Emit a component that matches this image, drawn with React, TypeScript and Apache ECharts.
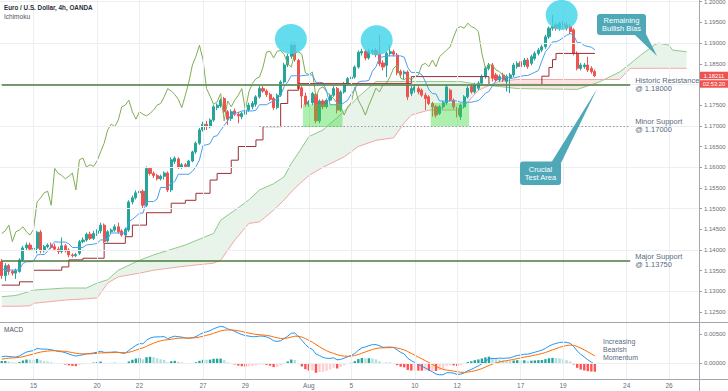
import React, { useEffect, useRef } from 'react';
import * as echarts from 'echarts';

// 4h bars [open, high, low, close], first bar = Mon 13 Jul 2020 (3rd session bar)
const candlesJul13to20 = [
  [1.1372, 1.1378, 1.1330, 1.1338], [1.1338, 1.1368, 1.1325, 1.1362], [1.1362, 1.1366, 1.1340, 1.1348],
  [1.1348, 1.1352, 1.1338, 1.1344], [1.1344, 1.1355, 1.1330, 1.1350], [1.1348, 1.1380, 1.1345, 1.1376],
  [1.1376, 1.1410, 1.1372, 1.1405], [1.1405, 1.1418, 1.1400, 1.1412], [1.1412, 1.1418, 1.1398, 1.1402],
  [1.1402, 1.1420, 1.1396, 1.1404], [1.1404, 1.1446, 1.1392, 1.1443], [1.1443, 1.1448, 1.1392, 1.1398],
  [1.1398, 1.1412, 1.1394, 1.1408], [1.1408, 1.1416, 1.1404, 1.1412], [1.1412, 1.1418, 1.1402, 1.1406],
  [1.1408, 1.1415, 1.1398, 1.1402], [1.1402, 1.1408, 1.1390, 1.1396], [1.1396, 1.1430, 1.1392, 1.1410],
  [1.1410, 1.1414, 1.1394, 1.1398], [1.1400, 1.1404, 1.1382, 1.1388], [1.1388, 1.1392, 1.1382, 1.1386],
  [1.1386, 1.1393, 1.1383, 1.1389], [1.1392, 1.1424, 1.1388, 1.1420], [1.1420, 1.1430, 1.1416, 1.1424],
  [1.1424, 1.1442, 1.1420, 1.1438], [1.1438, 1.1444, 1.1424, 1.1428], [1.1428, 1.1446, 1.1424, 1.1440],
  [1.1440, 1.1450, 1.1434, 1.1446], [1.1446, 1.1466, 1.1440, 1.1460], [1.1460, 1.1464, 1.1416, 1.1420],
  [1.1422, 1.1448, 1.1418, 1.1444], [1.1444, 1.1452, 1.1440, 1.1448], [1.1448, 1.1462, 1.1444, 1.1456],
  [1.1456, 1.1466, 1.1440, 1.1444], [1.1446, 1.1450, 1.1432, 1.1436], [1.1436, 1.1454, 1.1432, 1.1450],
  [1.1448, 1.1520, 1.1444, 1.1516], [1.1516, 1.1532, 1.1510, 1.1526], [1.1526, 1.1544, 1.1522, 1.1538],
  [1.1538, 1.1546, 1.1532, 1.1542], [1.1542, 1.1546, 1.1500, 1.1508], [1.1508, 1.1602, 1.1504, 1.1597],
  [1.1597, 1.1600, 1.1580, 1.1585], [1.1585, 1.1590, 1.1574, 1.1580],
];
const candlesJul23toAug3 = [
  [1.1580, 1.1584, 1.1568, 1.1572], [1.1572, 1.1582, 1.1568, 1.1578], [1.1578, 1.1590, 1.1570, 1.1586],
  [1.1586, 1.1590, 1.1540, 1.1545], [1.1545, 1.1624, 1.1540, 1.1618], [1.1614, 1.1626, 1.1608, 1.1622],
  [1.1620, 1.1624, 1.1596, 1.1600], [1.1600, 1.1610, 1.1596, 1.1606], [1.1606, 1.1610, 1.1598, 1.1602],
  [1.1602, 1.1618, 1.1598, 1.1615], [1.1615, 1.1640, 1.1612, 1.1637], [1.1637, 1.1662, 1.1632, 1.1658],
  [1.1658, 1.1695, 1.1654, 1.1690], [1.1690, 1.1710, 1.1686, 1.1704], [1.1704, 1.1712, 1.1690, 1.1698],
  [1.1698, 1.1718, 1.1694, 1.1714], [1.1714, 1.1750, 1.1710, 1.1746], [1.1744, 1.1754, 1.1738, 1.1750],
  [1.1748, 1.1766, 1.1744, 1.1762], [1.1766, 1.1770, 1.1730, 1.1734], [1.1734, 1.1738, 1.1702, 1.1716],
  [1.1718, 1.1740, 1.1712, 1.1734], [1.1736, 1.1742, 1.1724, 1.1728], [1.1728, 1.1734, 1.1706, 1.1724],
  [1.1722, 1.1734, 1.1716, 1.1730], [1.1728, 1.1742, 1.1724, 1.1738], [1.1738, 1.1756, 1.1734, 1.1750],
  [1.1746, 1.1760, 1.1740, 1.1754], [1.1752, 1.1774, 1.1746, 1.1770], [1.1770, 1.1796, 1.1766, 1.1790],
  [1.1790, 1.1796, 1.1780, 1.1784], [1.1784, 1.1788, 1.1770, 1.1776], [1.1776, 1.1780, 1.1760, 1.1764],
  [1.1766, 1.1770, 1.1738, 1.1744], [1.1744, 1.1778, 1.1740, 1.1774], [1.1774, 1.1810, 1.1770, 1.1806],
  [1.1806, 1.1852, 1.1802, 1.1847], [1.1847, 1.1874, 1.1842, 1.1868], [1.1868, 1.1904, 1.1862, 1.1895],
  [1.1895, 1.1902, 1.1855, 1.1860], [1.1858, 1.1862, 1.1786, 1.1790], [1.1792, 1.1796, 1.1742, 1.1772],
  [1.1772, 1.1780, 1.1746, 1.1752], [1.1752, 1.1762, 1.1746, 1.1758],
];
const candlesAug3to12 = [
  [1.1756, 1.1782, 1.1750, 1.1778], [1.1776, 1.1780, 1.1706, 1.1712], [1.1712, 1.1764, 1.1706, 1.1760],
  [1.1760, 1.1764, 1.1740, 1.1746], [1.1746, 1.1766, 1.1742, 1.1762], [1.1762, 1.1778, 1.1758, 1.1774],
  [1.1774, 1.1796, 1.1770, 1.1790], [1.1790, 1.1794, 1.1730, 1.1738], [1.1738, 1.1786, 1.1734, 1.1782],
  [1.1782, 1.1806, 1.1778, 1.1802], [1.1802, 1.1818, 1.1798, 1.1814], [1.1814, 1.1824, 1.1808, 1.1818],
  [1.1818, 1.1846, 1.1814, 1.1842], [1.1842, 1.1882, 1.1838, 1.1878], [1.1876, 1.1886, 1.1870, 1.1880],
  [1.1880, 1.1884, 1.1858, 1.1864], [1.1864, 1.1886, 1.1860, 1.1880], [1.1878, 1.1886, 1.1872, 1.1882],
  [1.1882, 1.1888, 1.1866, 1.1872], [1.1874, 1.1920, 1.1844, 1.1850], [1.1852, 1.1858, 1.1834, 1.1842],
  [1.1846, 1.1880, 1.1818, 1.1875], [1.1875, 1.1896, 1.1868, 1.1879], [1.1879, 1.1884, 1.1868, 1.1873],
  [1.1871, 1.1876, 1.1822, 1.1828], [1.1831, 1.1836, 1.1818, 1.1824], [1.1826, 1.1834, 1.1812, 1.1830],
  [1.1830, 1.1834, 1.1762, 1.1770], [1.1778, 1.1796, 1.1772, 1.1790], [1.1786, 1.1800, 1.1780, 1.1794],
  [1.1790, 1.1796, 1.1776, 1.1782], [1.1786, 1.1790, 1.1770, 1.1774], [1.1774, 1.1780, 1.1738, 1.1766],
  [1.1770, 1.1774, 1.1750, 1.1754], [1.1754, 1.1758, 1.1722, 1.1746], [1.1746, 1.1750, 1.1720, 1.1726],
  [1.1730, 1.1750, 1.1726, 1.1746], [1.1746, 1.1760, 1.1740, 1.1756], [1.1756, 1.1800, 1.1750, 1.1794],
  [1.1786, 1.1790, 1.1758, 1.1762], [1.1762, 1.1766, 1.1740, 1.1746], [1.1742, 1.1746, 1.1720, 1.1726],
];
const candlesAug12to20 = [
  [1.1722, 1.1754, 1.1714, 1.1750], [1.1746, 1.1774, 1.1742, 1.1770], [1.1770, 1.1796, 1.1766, 1.1791],
  [1.1795, 1.1800, 1.1778, 1.1782], [1.1782, 1.1804, 1.1778, 1.1799], [1.1791, 1.1808, 1.1786, 1.1803],
  [1.1803, 1.1824, 1.1798, 1.1819], [1.1819, 1.1844, 1.1814, 1.1839], [1.1839, 1.1852, 1.1834, 1.1847],
  [1.1847, 1.1852, 1.1807, 1.1815], [1.1823, 1.1828, 1.1806, 1.1811], [1.1811, 1.1824, 1.1806, 1.1819],
  [1.1823, 1.1828, 1.1806, 1.1811], [1.1807, 1.1824, 1.1783, 1.1819], [1.1815, 1.1828, 1.1779, 1.1823],
  [1.1823, 1.1852, 1.1818, 1.1847], [1.1843, 1.1856, 1.1838, 1.1851], [1.1855, 1.1860, 1.1838, 1.1843],
  [1.1847, 1.1864, 1.1842, 1.1859], [1.1859, 1.1864, 1.1838, 1.1843], [1.1851, 1.1872, 1.1846, 1.1867],
  [1.1863, 1.1880, 1.1858, 1.1875], [1.1875, 1.1888, 1.1870, 1.1883], [1.1883, 1.1896, 1.1878, 1.1891],
  [1.1891, 1.1920, 1.1886, 1.1915], [1.1915, 1.1940, 1.1910, 1.1936], [1.1936, 1.1968, 1.1930, 1.1940],
  [1.1944, 1.1950, 1.1930, 1.1936], [1.1936, 1.1952, 1.1930, 1.1948], [1.1948, 1.1954, 1.1934, 1.1940],
  [1.1944, 1.1950, 1.1930, 1.1936], [1.1940, 1.1946, 1.1922, 1.1928], [1.1932, 1.1936, 1.1870, 1.1875],
  [1.1875, 1.1880, 1.1834, 1.1839], [1.1839, 1.1852, 1.1834, 1.1847], [1.1843, 1.1852, 1.1838, 1.1847],
  [1.1847, 1.1867, 1.1830, 1.1835], [1.1839, 1.1844, 1.1826, 1.1831], [1.1831, 1.1836, 1.1818, 1.18211],
];
const candles = [...candlesJul13to20, ...candlesJul23toAug3, ...candlesAug3to12, ...candlesAug12to20];

const N_BARS = 198; // data bars + 26 forward cloud bars + margin
const dateLabelBars = [9, 27, 39, 57, 69, 87, 99, 117, 129, 147, 159, 177, 189];
const dateLabelText = ['15', '20', '22', '27', '29', 'Aug', '5', '10', '12', '17', '19', '24', '26'];
const priceTicks = [1.125, 1.13, 1.135, 1.14, 1.145, 1.15, 1.155, 1.16, 1.165, 1.17, 1.175, 1.18, 1.185, 1.19, 1.195, 1.2];
// 1.18000 is hidden behind the last-price tags in the reference
const priceTickLabels = priceTicks.filter(v => Math.abs(v - 1.18) > 1e-9);
const macdTicks = [0, 0.005];

// Ichimoku leading spans, bar index -> price
const cloudBars = [0, 4, 8, 9, 18, 24, 27, 30, 33, 39, 43, 52, 60, 62, 66, 70, 73, 77, 80, 82, 84, 87, 91, 97, 101, 106, 111, 114, 116, 121, 130, 135, 141, 146, 163, 169, 175, 178, 181, 185, 186, 189, 190, 194];
const spanA = [1.1287, 1.1290, 1.1300, 1.1303, 1.1308, 1.1308, 1.1320, 1.1328, 1.1351, 1.1375, 1.1388, 1.1412, 1.1440, 1.1472, 1.1496, 1.1521, 1.1545, 1.1560, 1.1577, 1.1609, 1.1634, 1.1674, 1.1690, 1.1735, 1.1770, 1.1807, 1.1807, 1.1807, 1.1807, 1.1807, 1.1807, 1.1800, 1.1795, 1.1790, 1.1788, 1.1805, 1.1830, 1.1850, 1.1871, 1.1896, 1.1900, 1.1895, 1.1883, 1.1879];
const spanB = [1.1264, 1.1264, 1.1265, 1.1271, 1.1279, 1.1282, 1.1284, 1.1320, 1.1335, 1.1344, 1.1351, 1.1361, 1.1368, 1.1375, 1.1424, 1.1464, 1.1468, 1.1496, 1.1521, 1.1540, 1.1557, 1.1580, 1.1600, 1.1625, 1.1650, 1.1665, 1.1671, 1.1707, 1.1726, 1.1738, 1.1738, 1.1786, 1.1808, 1.1812, 1.1812, 1.1812, 1.1812, 1.1839, 1.1839, 1.1839, 1.1839, 1.1839, 1.1839, 1.1839];

// Kijun (base line) steps: [start bar, value]
const kijunSteps = [[0, 1.1315], [5, 1.1323], [9, 1.1351], [17, 1.1359], [19, 1.1376], [23, 1.1380], [29, 1.1416], [35, 1.1432], [37, 1.1460], [41, 1.1490], [48, 1.1513], [52, 1.1520], [55, 1.1537], [59, 1.1569], [61, 1.1585], [65, 1.1617], [67, 1.1650], [72, 1.1666], [74, 1.1698], [79, 1.1754], [81, 1.1786], [84, 1.1802], [116, 1.1819], [138, 1.1800], [153, 1.1820], [155, 1.1841], [156, 1.1860], [157, 1.1875], [168, 1.1875]];

const macdStart = 0.0011;
const signalStart = 0.0007;

const levelResistance = 1.18;
const levelMinor = 1.17;
const levelMajor = 1.1375;

// annotation anchors: [bar, price]
const peakMarks = [[81.9, 1.1910], [106.2, 1.1907], [158.6, 1.1968]];
// highlight boxes: [barStart, barEnd, priceLow, priceHigh]
const testBoxes = [[85.3, 96.5, 1.1697, 1.1752], [121.5, 132.4, 1.1699, 1.1755]];

const P_MIN = 1.12259, P_MAX = 1.20041;
const M_MIN = -0.00268, M_MAX = 0.00705;
const UP = '#26a69a', DOWN = '#ef5350';
const FONT = 'Liberation Sans';

function buildOption() {
  const tenkan = candles.map((_, i) => {
    let h = -Infinity, l = Infinity;
    for (let j = Math.max(0, i - 8); j <= i; j++) { h = Math.max(h, candles[j][1]); l = Math.min(l, candles[j][2]); }
    return [i, (h + l) / 2];
  });
  const chikou = candles.slice(26).map((c, i) => [i, c[3]]);
  const closes = candles.map(c => c[3]);
  const k12 = 2 / 13, k26 = 2 / 27, k9 = 2 / 10;
  let e12 = closes[0], e26 = closes[0] - macdStart, sig = signalStart;
  const macd: number[] = [], signal: number[] = [], hist: any[] = [];
  closes.forEach((c, i) => {
    if (i > 0) { e12 = c * k12 + e12 * (1 - k12); e26 = c * k26 + e26 * (1 - k26); }
    const m = e12 - e26;
    if (i > 0) sig = m * k9 + sig * (1 - k9);
    macd.push(m); signal.push(sig);
  });
  let prevH = 0;
  macd.forEach((m, i) => {
    const h = m - signal[i];
    const color = h >= 0 ? (h >= prevH ? '#26a69a' : '#b2dfdb') : (h < prevH ? '#ff5252' : '#ffcdd2');
    hist.push({ value: h, itemStyle: { color } });
    prevH = h;
  });

  const categories = Array.from({ length: N_BARS }, (_, i) => String(i));
  const xy = (api: any, b: number, v: number) => {
    const i = Math.floor(b);
    const p = api.coord([i, v]);
    const bw = api.size([1, 0])[0];
    return [p[0] + (b - i) * bw, p[1]];
  };
  const labelStyle = { show: true, position: 'end', color: '#5b6b80', fontSize: 7.5, lineHeight: 8, fontFamily: FONT, distance: 5 };
  const levelLine = { color: '#4d7a3c', width: 1.5, type: 'solid' };

  return {
    animation: false,
    textStyle: { fontFamily: FONT },
    grid: [
      { left: 0, right: 29, top: 0, height: 322, containLabel: false, outerBoundsMode: 'none' },
      { left: 0, right: 29, top: 322, height: 57, containLabel: false, outerBoundsMode: 'none' },
    ],
    xAxis: [
      { type: 'category', gridIndex: 0, data: categories, boundaryGap: true, axisLine: { show: false }, axisTick: { show: false }, axisLabel: { show: false }, splitLine: { show: false } },
      {
        type: 'category', gridIndex: 1, data: categories, boundaryGap: true,
        axisLine: { show: true, lineStyle: { color: '#9598a1', width: 1 } }, axisTick: { show: false },
        axisLabel: {
          show: true, fontSize: 6.5, color: '#6a6d78', margin: 3,
          interval: (idx: number) => dateLabelBars.includes(idx),
          formatter: (_v: string, idx: number) => { const k = dateLabelBars.indexOf(idx); return k >= 0 ? dateLabelText[k] : ''; },
        },
        splitLine: { show: false },
      },
    ],
    yAxis: [
      {
        type: 'value', gridIndex: 0, position: 'right', min: P_MIN, max: P_MAX,
        axisLine: { show: false },
        axisTick: { show: true, length: 3, lineStyle: { color: '#9598a1' }, customValues: priceTicks },
        axisLabel: { customValues: priceTickLabels, fontSize: 6, color: '#6a6d78', margin: 5, formatter: (v: number) => v.toFixed(5) },
        splitLine: { show: false },
      },
      {
        type: 'value', gridIndex: 1, position: 'right', min: M_MIN, max: M_MAX,
        axisLine: { show: false },
        axisTick: { show: true, length: 3, lineStyle: { color: '#9598a1' }, customValues: macdTicks },
        axisLabel: { customValues: macdTicks, fontSize: 6, color: '#6a6d78', margin: 5, formatter: (v: number) => v.toFixed(5) },
        splitLine: { show: false },
      },
    ],
    series: [
      {
        type: 'line', xAxisIndex: 0, yAxisIndex: 0, z: 0, data: candles.map(() => null), silent: true,
        markLine: {
          symbol: ['none', 'none'], silent: true, label: { show: false },
          lineStyle: { color: '#eceef2', width: 1, type: 'solid' },
          data: [...priceTicks.map(v => ({ yAxis: v })), ...dateLabelBars.map(b => ({ xAxis: b }))],
        },
      },
      {
        type: 'line', xAxisIndex: 1, yAxisIndex: 1, z: 0, data: candles.map(() => null), silent: true,
        markLine: {
          symbol: ['none', 'none'], silent: true, label: { show: false },
          lineStyle: { color: '#eceef2', width: 1, type: 'solid' },
          data: [...macdTicks.map(v => ({ yAxis: v })), ...dateLabelBars.map(b => ({ xAxis: b }))],
        },
      },
      {
        type: 'custom', xAxisIndex: 0, yAxisIndex: 0, z: 1, silent: true,
        data: cloudBars.map((b, i) => [b, spanA[i], spanB[i]]),
        encode: { x: 0, y: [1, 2] },
        renderItem: (params: any, api: any) => {
          const i = params.dataIndex;
          if (i >= cloudBars.length - 1) return { type: 'group', children: [] };
          const a0 = xy(api, cloudBars[i], spanA[i]), a1 = xy(api, cloudBars[i + 1], spanA[i + 1]);
          const b1 = xy(api, cloudBars[i + 1], spanB[i + 1]), b0 = xy(api, cloudBars[i], spanB[i]);
          const green = spanA[i] + spanA[i + 1] >= spanB[i] + spanB[i + 1];
          return { type: 'polygon', shape: { points: [a0, a1, b1, b0] }, style: { fill: green ? 'rgba(67,160,71,0.12)' : 'rgba(244,67,54,0.14)', stroke: null } };
        },
      },
      { type: 'line', xAxisIndex: 0, yAxisIndex: 0, z: 2, silent: true, showSymbol: false, data: cloudBars.map((b, i) => [b, spanA[i]]), lineStyle: { color: '#8fca8f', width: 1 } },
      { type: 'line', xAxisIndex: 0, yAxisIndex: 0, z: 2, silent: true, showSymbol: false, data: cloudBars.map((b, i) => [b, spanB[i]]), lineStyle: { color: '#f4a6a6', width: 1 } },
      {
        type: 'line', xAxisIndex: 0, yAxisIndex: 0, z: 2, data: candles.map(() => null), silent: true,
        markLine: {
          symbol: ['none', 'none'], silent: true,
          data: [
            [{ coord: [0, levelResistance], lineStyle: levelLine, label: { ...labelStyle, formatter: 'Historic Resistance\n@ 1.18000' } }, { coord: [178, levelResistance] }],
            [{ coord: [73, levelMinor], lineStyle: { color: '#9a9ca4', width: 1, type: [1.5, 2] }, label: { ...labelStyle, formatter: 'Minor Support\n@ 1.17000' } }, { coord: [178, levelMinor] }],
            [{ coord: [0, levelMajor], lineStyle: levelLine, label: { ...labelStyle, formatter: 'Major Support\n@ 1.13750' } }, { coord: [178, levelMajor] }],
          ],
        },
      },
      {
        type: 'candlestick', xAxisIndex: 0, yAxisIndex: 0, z: 3, barWidth: 2.6,
        data: candles.map(([o, h, l, c]) => [o, c, l, h]),
        itemStyle: { color: UP, color0: DOWN, borderColor: UP, borderColor0: DOWN, borderWidth: 1 },
      },
      { type: 'line', xAxisIndex: 0, yAxisIndex: 0, z: 4, silent: true, showSymbol: false, data: chikou, lineStyle: { color: '#7fae55', width: 1 } },
      { type: 'line', xAxisIndex: 0, yAxisIndex: 0, z: 4, silent: true, showSymbol: false, data: tenkan, lineStyle: { color: '#4a9ff0', width: 1 } },
      { type: 'line', xAxisIndex: 0, yAxisIndex: 0, z: 4, silent: true, showSymbol: false, step: 'end', data: kijunSteps, lineStyle: { color: '#9a2f35', width: 1 } },
      {
        type: 'custom', xAxisIndex: 0, yAxisIndex: 0, z: 6, silent: true,
        data: testBoxes.map(b => [Math.round(b[0]), b[3]]), encode: { x: 0, y: 1 },
        renderItem: (params: any, api: any) => {
          const [b0, b1, lo, hi] = testBoxes[params.dataIndex];
          const p0 = xy(api, b0, hi), p1 = xy(api, b1, lo);
          return { type: 'rect', shape: { x: p0[0], y: p0[1], width: p1[0] - p0[0], height: p1[1] - p0[1] }, style: { fill: 'rgba(60,220,60,0.42)' } };
        },
      },
      {
        type: 'custom', xAxisIndex: 0, yAxisIndex: 0, z: 7, silent: true,
        data: peakMarks.map(p => [Math.round(p[0]), p[1]]), encode: { x: 0, y: 1 },
        renderItem: (params: any, api: any) => {
          const [b, v] = peakMarks[params.dataIndex];
          const c = xy(api, b, v);
          return { type: 'ellipse', shape: { cx: c[0], cy: c[1], rx: 16, ry: 15 }, style: { fill: 'rgba(60,212,234,0.8)' } };
        },
      },
      { type: 'bar', xAxisIndex: 1, yAxisIndex: 1, z: 2, barWidth: 2.4, data: hist, silent: true },
      { type: 'line', xAxisIndex: 1, yAxisIndex: 1, z: 3, silent: true, showSymbol: false, data: macd, lineStyle: { color: '#2196f3', width: 1 } },
      { type: 'line', xAxisIndex: 1, yAxisIndex: 1, z: 3, silent: true, showSymbol: false, data: signal, lineStyle: { color: '#ff6d00', width: 1 } },
    ],
  };
}

function buildGraphics(yLast: number) {
  const lastClose = candles[candles.length - 1][3];
  const txt = (x: number, y: number, text: string, extra: any) => ({ type: 'text', x, y, silent: true, z: 100, style: { text, fontFamily: FONT, ...extra } });
  return [
    { type: 'line', silent: true, z: 90, shape: { x1: 0, y1: 322.5, x2: 728, y2: 322.5 }, style: { stroke: '#a3a6af', lineWidth: 1 } },
    { type: 'line', silent: true, z: 90, shape: { x1: 0, y1: 379.5, x2: 728, y2: 379.5 }, style: { stroke: '#a3a6af', lineWidth: 1 } },
    { type: 'line', silent: true, z: 90, shape: { x1: 699.5, y1: 0, x2: 699.5, y2: 391 }, style: { stroke: '#a3a6af', lineWidth: 1 } },
    txt(4, 4, 'Euro / U.S. Dollar, 4h, OANDA', { fontSize: 6.3, fontWeight: 'bold', fill: '#2a2e39' }),
    txt(4, 12.5, 'Ichimoku', { fontSize: 6.5, fill: '#50535e' }),
    txt(4, 326, 'MACD', { fontSize: 6.5, fill: '#50535e' }),
    // Remaining Bullish Bias callout
    { type: 'polygon', silent: true, z: 95, shape: { points: [[634, 34], [645, 32], [657, 56]] }, style: { fill: '#4fa8b7' } },
    { type: 'rect', silent: true, z: 96, shape: { x: 597, y: 14, width: 49, height: 21, r: 3 }, style: { fill: '#4fa8b7' } },
    txt(621.5, 24.5, 'Remaining\nBullish Bias', { fontSize: 7.5, lineHeight: 8, fill: '#ffffff', align: 'center', verticalAlign: 'middle' }),
    // Crucial Test Area callout
    { type: 'polygon', silent: true, z: 95, shape: { points: [[551, 163], [561, 163], [597, 89]] }, style: { fill: '#4fa8b7' } },
    { type: 'rect', silent: true, z: 96, shape: { x: 520, y: 161.5, width: 41, height: 23.5, r: 3 }, style: { fill: '#4fa8b7' } },
    txt(540.5, 173.5, 'Crucial\nTest Area', { fontSize: 7.5, lineHeight: 8, fill: '#ffffff', align: 'center', verticalAlign: 'middle' }),
    txt(603, 337, 'Increasing\nBearish\nMomentum', { fontSize: 7, lineHeight: 8, fill: '#5b6b80' }),
    // last price tags
    { type: 'rect', silent: true, z: 96, shape: { x: 700, y: yLast - 4, width: 28, height: 7.5 }, style: { fill: '#ef5350' } },
    txt(714, yLast - 0.2, lastClose.toFixed(5), { fontSize: 5.8, fill: '#ffffff', align: 'center', verticalAlign: 'middle' }),
    { type: 'rect', silent: true, z: 96, shape: { x: 700, y: yLast + 4.5, width: 28, height: 7.5 }, style: { fill: '#ef5350' } },
    txt(714, yLast + 8.3, '02:53:20', { fontSize: 5.8, fill: '#ffffff', align: 'center', verticalAlign: 'middle' }),
  ];
}

export default function App() {
  const ref = useRef<HTMLDivElement>(null);
  useEffect(() => {
    if (!ref.current) return;
    const chart = echarts.init(ref.current, null, { renderer: 'svg' });
    chart.setOption(buildOption() as any);
    const lastClose = candles[candles.length - 1][3];
    const yLast = chart.convertToPixel({ yAxisIndex: 0 } as any, lastClose) as unknown as number;
    chart.setOption({ graphic: buildGraphics(yLast) } as any);
    return () => chart.dispose();
  }, []);
  return <div ref={ref} style={{ position: 'fixed', left: 0, top: 0, width: 728, height: 391, background: '#ffffff' }} />;
}
